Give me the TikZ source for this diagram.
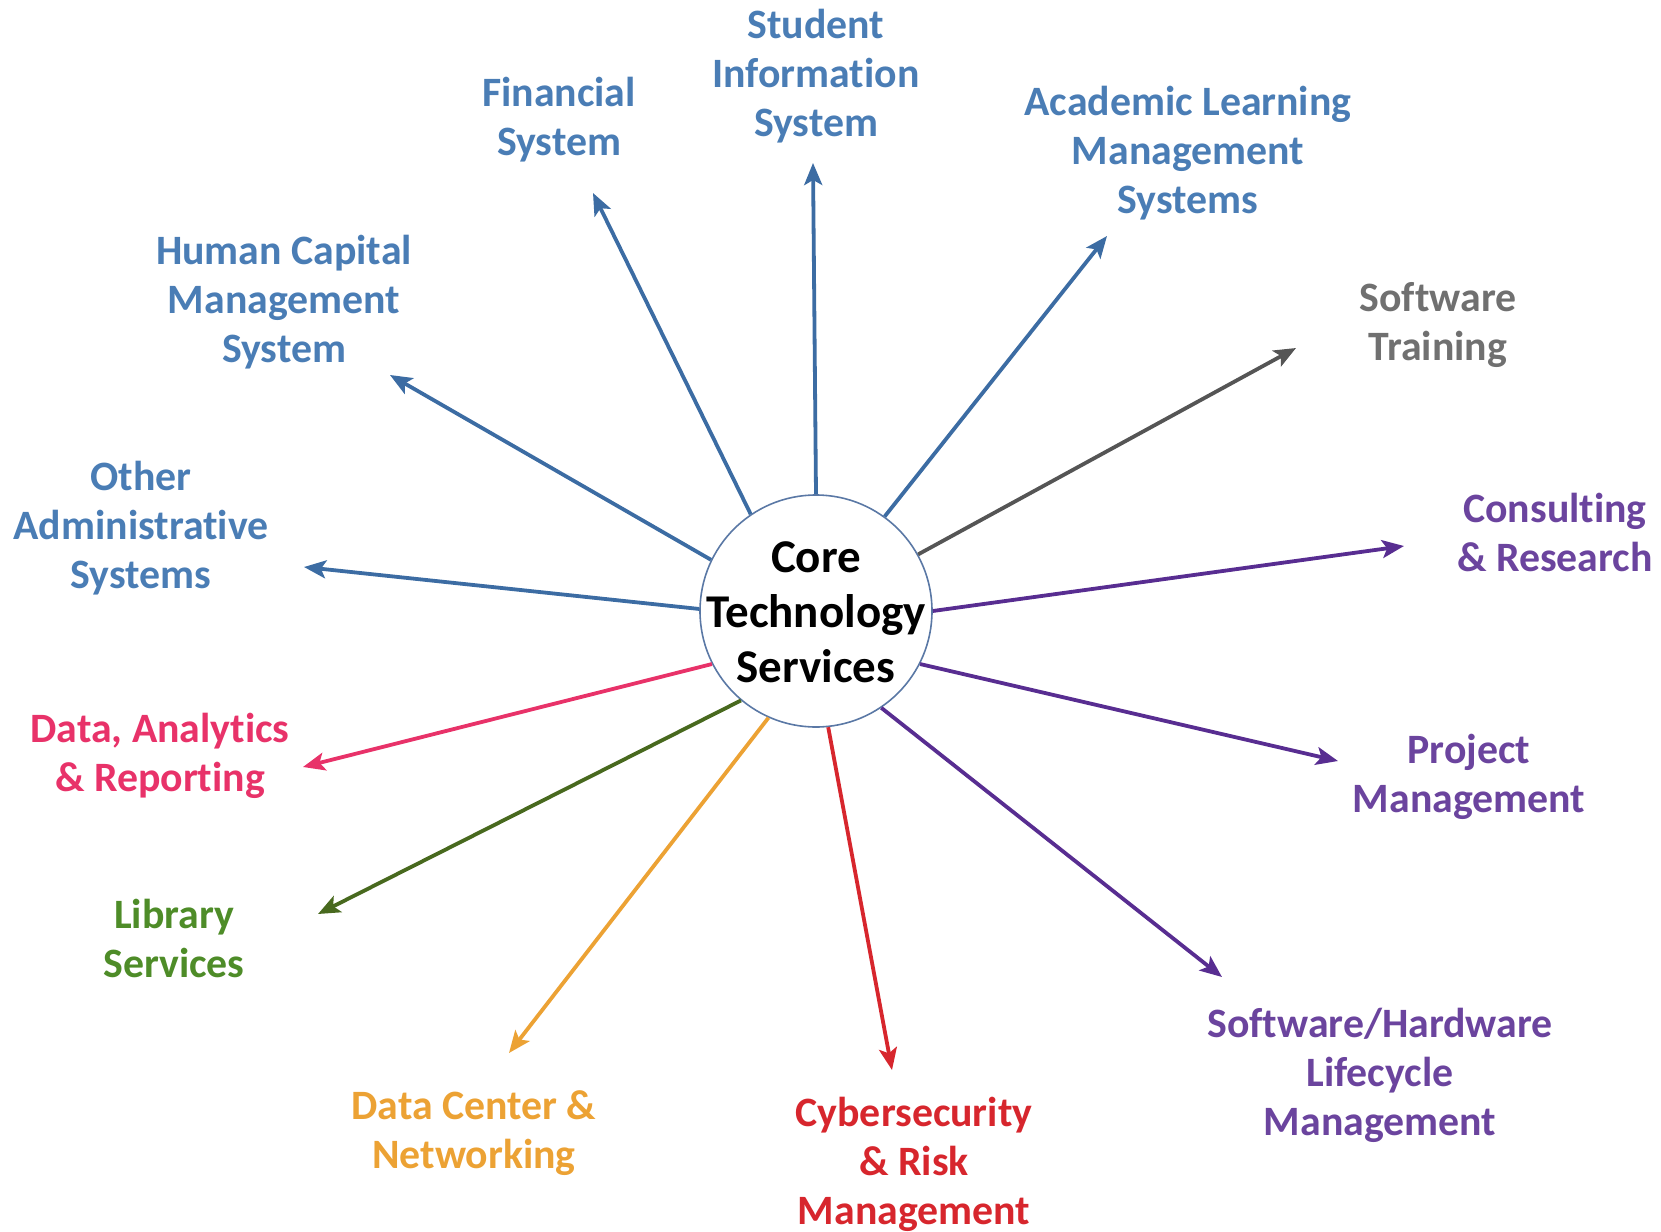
\documentclass[tikz,border=0pt]{standalone}
\usepackage{fontspec}
\setmainfont[Ligatures=NoCommon]{Carlito}
\usetikzlibrary{arrows.meta}
\definecolor{blueT}{RGB}{74,125,181}
\definecolor{blueA}{RGB}{60,108,163}
\definecolor{grayT}{RGB}{112,112,112}
\definecolor{grayA}{RGB}{85,85,85}
\definecolor{purpT}{RGB}{107,68,158}
\definecolor{purpA}{RGB}{88,45,145}
\definecolor{pinkC}{RGB}{232,50,105}
\definecolor{greenT}{RGB}{78,140,40}
\definecolor{greenA}{RGB}{72,105,30}
\definecolor{orangeC}{RGB}{236,162,52}
\definecolor{redC}{RGB}{215,38,45}
\definecolor{ringC}{RGB}{90,120,165}
\begin{document}
\begin{tikzpicture}[x=0.5pt,y=-0.5pt,
  lbl/.style={align=center,font=\bfseries\fontsize{20.9}{24.5}\selectfont,inner sep=0pt},
  arr/.style={line width=1.9pt,-{Stealth[length=11pt,width=9pt,inset=2.5pt]}},
  hub/.style={circle,draw=ringC,line width=0.8pt,minimum size=116pt,inner sep=0pt},
  hubtext/.style={align=center,inner sep=0pt,font=\bfseries\fontsize{23.5}{27.5}\selectfont}]
\useasboundingbox (0,0) rectangle (1661,1232);
\node[hub] (c) at (816,611) {};
\node[hubtext] (ct) at (816,612) {Core\\Technology\\Services};
% labels
\node[lbl,text=blueT] (sis) at (816,76) {Student\\Information\\System};
\node[lbl,text=blueT] (fin) at (559,120) {Financial\\System};
\node[lbl,text=blueT] (alm) at (1188,153) {Academic Learning\\Management\\Systems};
\node[lbl,text=blueT] (hcm) at (284,302) {Human Capital\\Management\\System};
\node[lbl,text=grayT] (swt) at (1438,325) {Software\\Training};
\node[lbl,text=blueT] (oas) at (141,528) {Other\\Administrative\\Systems};
\node[lbl,text=purpT] (cr) at (1555,532) {Consulting\\\& Research};
\node[lbl,text=pinkC] (dar) at (160,756) {Data, Analytics\\\& Reporting};
\node[lbl,text=purpT] (pm) at (1469,777) {Project\\Management};
\node[lbl,text=greenT] (lib) at (174,938) {Library\\Services};
\node[lbl,text=orangeC] (dcn) at (474,1133) {Data Center \&\\Networking};
\node[lbl,text=redC] (cyb) at (914,1164) {Cybersecurity\\\& Risk\\Management};
\node[lbl,text=purpT] (shl) at (1380,1075) {Software/Hardware\\Lifecycle\\Management};
% arrow tips
\coordinate (tsis) at (813,163);
\coordinate (tfin) at (593,193);
\coordinate (talm) at (1107,236);
\coordinate (thcm) at (390,375);
\coordinate (tswt) at (1296,348);
\coordinate (toas) at (304,567);
\coordinate (tcr) at (1404,546);
\coordinate (tdar) at (303,767);
\coordinate (tpm) at (1338,761);
\coordinate (tlib) at (318,914);
\coordinate (tdcn) at (509,1053);
\coordinate (tcyb) at (892,1070);
\coordinate (tshl) at (1222,977);
% arrows
\draw[arr,blueA] (c.90) -- (tsis);
\draw[arr,blueA] (c.124.6) -- (tfin);
\draw[arr,blueA] (c.54.2) -- (talm);
\draw[arr,blueA] (c.154.8) -- (thcm);
\draw[arr,grayA] (c.29.7) -- (tswt);
\draw[arr,blueA] (c.179.5) -- (toas);
\draw[arr,purpA] (c.0) -- (tcr);
\draw[arr,pinkC] (c.207.9) -- (tdar);
\draw[arr,purpA] (c.-27) -- (tpm);
\draw[arr,greenA] (c.230.5) -- (tlib);
\draw[arr,orangeC] (c.246.8) -- (tdcn);
\draw[arr,redC] (c.276.2) -- (tcyb);
\draw[arr,purpA] (c.304.9) -- (tshl);
\end{tikzpicture}
\end{document}
